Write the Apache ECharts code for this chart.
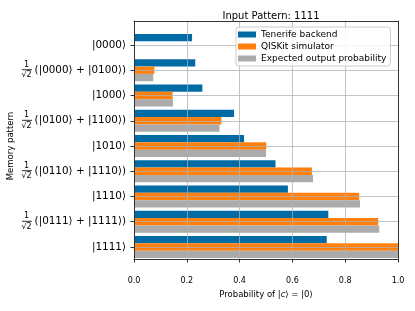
<!DOCTYPE html>
<html><head><meta charset="utf-8">
<script src="https://cdn.jsdelivr.net/npm/echarts@6/dist/echarts.min.js"></script>
<style>html,body{margin:0;padding:0;background:#fff}#c{width:415px;height:311px}</style>
</head><body><div id="c"></div>
<script>
// ---- data ----
const prefactors = ['', '1/√2', '', '1/√2', '', '1/√2', '', '1/√2', ''];
const states = ['|0000⟩', '(|0000⟩ + |0100⟩)', '|1000⟩', '(|0100⟩ + |1100⟩)', '|1010⟩',
                '(|0110⟩ + |1110⟩)', '|1110⟩', '(|0111⟩ + |1111⟩)', '|1111⟩'];
const seriesNames = ['Tenerife backend', 'QISKit simulator', 'Expected output probability'];
const tenerife = [0.220, 0.232, 0.259, 0.379, 0.417, 0.536, 0.583, 0.736, 0.730];
const qiskit   = [0.000, 0.077, 0.146, 0.331, 0.501, 0.674, 0.853, 0.925, 1.000];
const expected = [0.000, 0.073, 0.148, 0.324, 0.500, 0.678, 0.856, 0.929, 1.000];
const xTickStep = 0.2;
const titleText = 'Input Pattern: 1111';
const xName = 'Probability of |{i|c}⟩ = |0⟩';
const yName = 'Memory pattern';

const categories = states.map((s, i) => prefactors[i] + s);
const colors = ['#006BA4', '#FF800E', '#ABABAB'];
const FONT = 'DejaVu Sans';

const chart = echarts.init(document.getElementById('c'), null, {renderer: 'canvas'});
const frameLine = {show: true, onZero: false, lineStyle: {color: '#333', width: 1}};
const gridLine = {show: true, lineStyle: {color: '#b0b0b0', width: 1, opacity: 0.75}};

chart.setOption({
  animation: false,
  textStyle: {fontFamily: FONT, color: '#000'},
  title: {text: titleText, left: 266, textAlign: 'center', top: 6,
          textStyle: {fontFamily: FONT, fontSize: 10, fontWeight: 'normal', color: '#000'}},
  legend: {
    orient: 'vertical', left: 236, top: 27, z: 10,
    data: seriesNames,
    icon: 'rect', itemWidth: 18, itemHeight: 6, itemGap: 3,
    padding: [3, 4, 3, 2],
    backgroundColor: 'rgba(255,255,255,0.85)', borderColor: '#ccc', borderWidth: 1, borderRadius: 3,
    textStyle: {fontFamily: FONT, fontSize: 9, color: '#000'}
  },
  grid: [
    {left: 134, right: 17, top: 21, bottom: 52, outerBoundsMode: 'none', containLabel: false},
    {left: 134, right: 17, top: 32.4, bottom: 51.4, outerBoundsMode: 'none', containLabel: false}
  ],
  xAxis: [
    {gridIndex: 0, type: 'value', min: 0, max: 1, interval: xTickStep, position: 'bottom', z: 3,
     axisLine: frameLine,
     axisTick: {show: true, length: 3.5, lineStyle: {color: '#333'}},
     axisLabel: {fontFamily: FONT, fontSize: 8, color: '#000', margin: 18, formatter: v => v.toFixed(1)},
     splitLine: gridLine,
     name: xName, nameLocation: 'middle', nameGap: 29,
     nameTextStyle: {fontFamily: FONT, fontSize: 8.5, color: '#000', rich: {i: {fontStyle: 'italic', fontSize: 8.5, fontFamily: FONT}}}},
    {gridIndex: 0, type: 'value', min: 0, max: 1, position: 'top', z: 3,
     axisLine: frameLine, axisTick: {show: false}, axisLabel: {show: false}, splitLine: {show: false}},
    {gridIndex: 1, type: 'value', min: 0, max: 1, show: false}
  ],
  yAxis: [
    {gridIndex: 0, type: 'value', min: 0, max: 1, position: 'left', z: 3,
     axisLine: frameLine, axisTick: {show: false}, axisLabel: {show: false}, splitLine: {show: false}},
    {gridIndex: 0, type: 'value', min: 0, max: 1, position: 'right', z: 3,
     axisLine: frameLine, axisTick: {show: false}, axisLabel: {show: false}, splitLine: {show: false}},
    {gridIndex: 1, type: 'category', data: categories, inverse: true, position: 'left', z: 3,
     axisLine: {show: false},
     axisTick: {show: true, alignWithLabel: true, length: 3.5, lineStyle: {color: '#333'}},
     axisLabel: {fontFamily: FONT, fontSize: 10.4, color: '#000', margin: 8,
                 formatter: (v, i) => states[i]},
     splitLine: {show: true, alignWithLabel: true, lineStyle: {color: '#b0b0b0', width: 1, opacity: 0.75}},
     name: yName, nameLocation: 'middle', nameGap: 119, nameRotate: 90,
     nameTextStyle: {fontFamily: FONT, fontSize: 8.5, color: '#000'}},
    {gridIndex: 1, type: 'category', data: categories, inverse: true, position: 'left', offset: 102, z: 3,
     axisLine: {show: false}, axisTick: {show: false}, splitLine: {show: false},
     axisLabel: {margin: 0, interval: 0,
       formatter: (v, i) => prefactors[i] ? '{n|1}\n{b| }\n{d|√2}' : '',
       rich: {
         n: {fontFamily: FONT, fontSize: 8, lineHeight: 8, width: 11, align: 'center', color: '#000'},
         b: {fontSize: 1, lineHeight: 2, width: 10, height: 0.8, backgroundColor: '#000'},
         d: {fontFamily: FONT, fontSize: 8, lineHeight: 9, width: 11, align: 'center', color: '#000'}
       }}}
  ],
  series: [tenerife, qiskit, expected].map((d, k) => ({
    name: seriesNames[k], type: 'bar', xAxisIndex: 2, yAxisIndex: 2,
    data: d, barWidth: 7.3, barGap: '0%', itemStyle: {color: colors[k]}
  }))
});
</script></body></html>
